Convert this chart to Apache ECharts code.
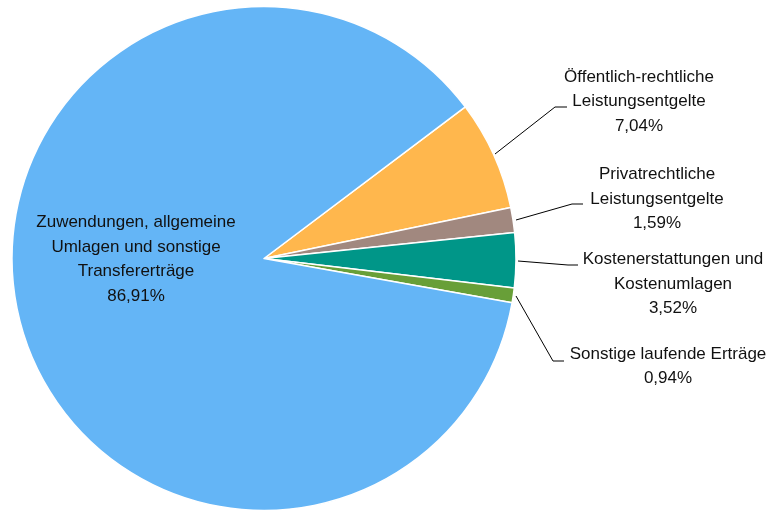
<!DOCTYPE html>
<html><head><meta charset="utf-8">
<script src="https://cdn.jsdelivr.net/npm/echarts@6/dist/echarts.min.js"></script>
<style>html,body{margin:0;padding:0;background:#fff}#c{width:775px;height:510px}</style>
</head><body><div id="c"></div>
<script>
const categories = [
  'Öffentlich-rechtliche\nLeistungsentgelte',
  'Privatrechtliche\nLeistungsentgelte',
  'Kostenerstattungen und\nKostenumlagen',
  'Sonstige laufende Erträge',
  'Zuwendungen, allgemeine\nUmlagen und sonstige\nTransfererträge'
];
const values = [7.04, 1.59, 3.52, 0.94, 86.91];
const colors = ['#FFB74D', '#A1887F', '#009688', '#689F38', '#64B5F6'];

// label anchor positions (layout only)
const labelPos = [
  {x: 639, y: 101.5, line: [[495,154],[555,107],[567,107]]},
  {x: 657, y: 199, line: [[516,220],[572,204],[583,204]]},
  {x: 673, y: 284, line: [[518,261],[568,265],[578,265]]},
  {x: 668, y: 366.5, line: [[516,296],[553,361],[564,361]]},
  {x: 136, y: 259.5, line: null}
];

const chart = echarts.init(document.getElementById('c'), null, {renderer: 'canvas'});
const fmt = v => v.toFixed(2).replace('.', ',') + '%';
chart.setOption({
  animation: false,
  series: [{
    type: 'pie',
    center: [264, 258.5],
    radius: 252,
    startAngle: 37,
    clockwise: true,
    avoidLabelOverlap: false,
    itemStyle: {borderColor: '#fff', borderWidth: 1.5},
    label: {
      show: true,
      color: '#111',
      fontFamily: "'Liberation Sans Narrow', 'Arial Narrow', 'Liberation Sans', Arial, sans-serif",
      fontSize: 17,
      lineHeight: 24.5,
      align: 'center',
      formatter: p => categories[p.dataIndex] + '\n' + fmt(values[p.dataIndex])
    },
    labelLine: {show: true, lineStyle: {color: '#000', width: 1}, smooth: false},
    labelLayout: function (params) {
      const lp = labelPos[params.dataIndex];
      const r = {x: lp.x, y: lp.y, align: 'center', verticalAlign: 'middle'};
      if (lp.line) r.labelLinePoints = lp.line;
      return r;
    },
    data: categories.map((c, i) => ({
      name: c,
      value: values[i],
      itemStyle: {color: colors[i]},
      labelLine: {show: !!labelPos[i].line}
    }))
  }]
});
</script></body></html>
